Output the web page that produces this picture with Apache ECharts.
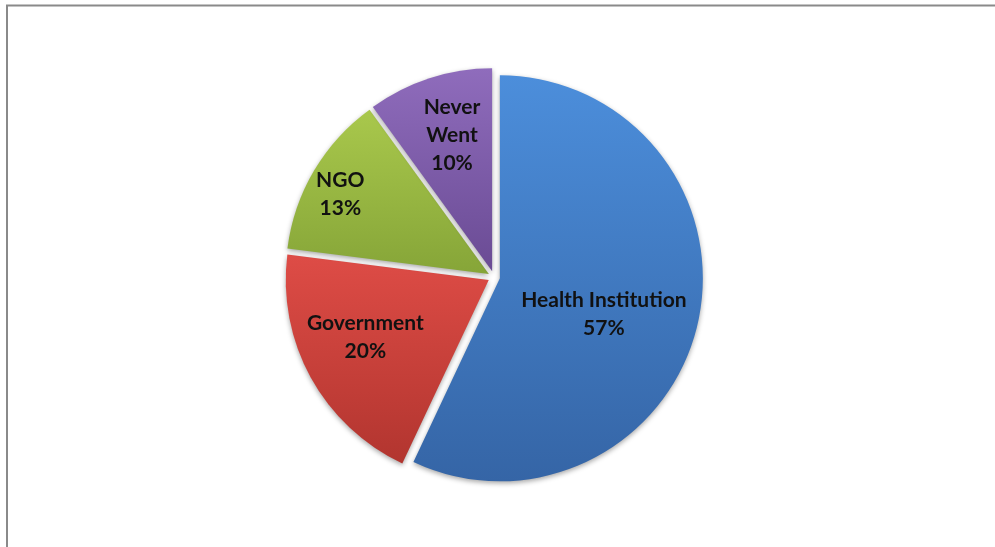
<!DOCTYPE html>
<html>
<head>
<meta charset="utf-8">
<script src="https://cdn.jsdelivr.net/npm/echarts@6/dist/echarts.min.js"></script>
<style>
  html, body { margin: 0; padding: 0; background: #fff; }
  #chart { width: 995px; height: 547px; }
</style>
</head>
<body>
<div id="chart"></div>
<script>
// Where respondents went for help (share of answers, %)
const categories = ['Health Institution', 'Government', 'NGO', 'Never\nWent'];
const shares = [57, 20, 13, 10];

// Slice fills: [top colour, bottom colour]
const fills = [
  ['#4c8edb', '#3565a6'],
  ['#de4c46', '#b2352f'],
  ['#a9c84c', '#86a538'],
  ['#8f6cbc', '#6a4b94']
];
// Label placement per slice: distance out (fraction of the radius)
// and a small turn (degrees) away from the slice's middle angle
const labelReach = [0.527, 0.655, 0.815, 0.684];
const labelTurn = [6.5, 4.1, -2.5, 1.6];

const R = 203;
const total = shares.reduce((a, b) => a + b, 0);
let acc = 0;
const midAngles = shares.map(v => {
  const mid = (acc + v / 2) / total * 2 * Math.PI;
  acc += v;
  return mid;
});

const chart = echarts.init(document.getElementById('chart'));
chart.setOption({
  animation: false,
  graphic: [{
    type: 'rect',
    shape: { x: 7, y: 5.5, width: 1100, height: 700 },
    style: { fill: 'none', stroke: '#8a8a8a', lineWidth: 2 },
    silent: true
  }],
  series: [{
    type: 'pie',
    center: [494, 277],
    radius: [0, R],
    startAngle: 90,
    clockwise: true,
    selectedMode: 'multiple',
    selectedOffset: 6,
    avoidLabelOverlap: false,
    label: {
      show: true,
      position: 'inside',
      formatter: p => p.name + '\n' + p.value + '%',
      fontFamily: 'Lato, "Liberation Sans", sans-serif',
      fontWeight: 'bold',
      fontSize: 21,
      lineHeight: 28,
      color: '#111'
    },
    labelLine: { show: false },
    labelLayout: p => {
      const i = p.dataIndex;
      const mid = midAngles[i];
      const a = mid + labelTurn[i] * Math.PI / 180;
      const r = labelReach[i] * R;
      // move from the default spot (half radius on the middle angle) to the chosen one
      return {
        dx: Math.sin(a) * r - Math.sin(mid) * R / 2,
        dy: -Math.cos(a) * r + Math.cos(mid) * R / 2
      };
    },
    itemStyle: {
      shadowBlur: 5,
      shadowColor: 'rgba(0,0,0,0.35)',
      shadowOffsetY: 2
    },
    emphasis: { disabled: true },
    data: categories.map((name, i) => ({
      name: name,
      value: shares[i],
      selected: true,
      itemStyle: {
        color: new echarts.graphic.LinearGradient(0, 0, 0, 1, [
          { offset: 0, color: fills[i][0] },
          { offset: 1, color: fills[i][1] }
        ])
      }
    }))
  }]
});
</script>
</body>
</html>
